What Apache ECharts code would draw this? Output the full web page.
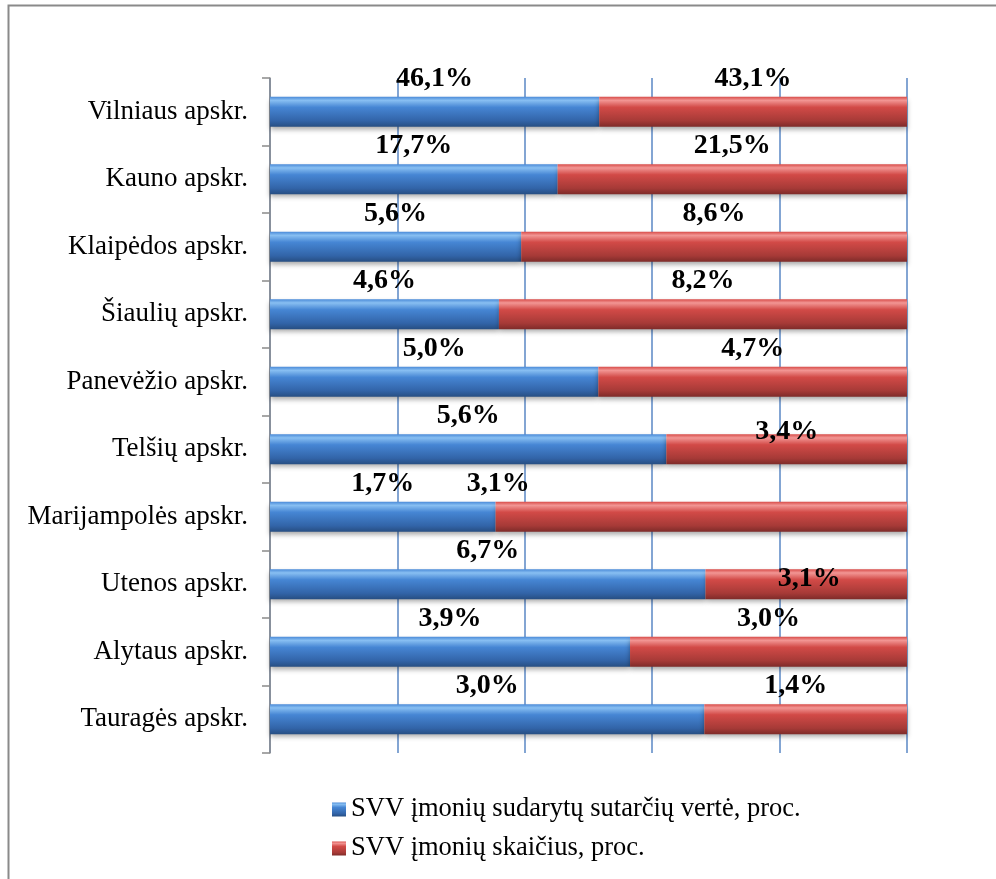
<!DOCTYPE html>
<html>
<head>
<meta charset="utf-8">
<script src="https://cdn.jsdelivr.net/npm/echarts@6/dist/echarts.min.js"></script>
<style>
  html, body { margin: 0; padding: 0; background: #fff; }
  #chart { width: 996px; height: 879px; }
</style>
</head>
<body>
<div id="chart"></div>
<script>
// apskritys, iš viršaus į apačią
const categories = ['Vilniaus apskr.', 'Kauno apskr.', 'Klaipėdos apskr.', 'Šiaulių apskr.', 'Panevėžio apskr.',
  'Telšių apskr.', 'Marijampolės apskr.', 'Utenos apskr.', 'Alytaus apskr.', 'Tauragės apskr.']
// SVV įmonių sudarytų sutarčių vertė, proc.
const contractValue = [46.1, 17.7, 5.6, 4.6, 5.0, 5.6, 1.7, 6.7, 3.9, 3.0]
// SVV įmonių skaičius, proc.
const companyCount = [43.1, 21.5, 8.6, 8.2, 4.7, 3.4, 3.1, 3.1, 3.0, 1.4]
const seriesNames = ['SVV įmonių sudarytų sutarčių vertė, proc.', 'SVV įmonių skaičius, proc.']

// rankiniu būdu pastumtos etiketės (kaip originale)
const redLabelShift = { 5: [0, 16], 6: [-203, 0], 7: [3, 28], 9: [-10, 0] }

const font = 'Liberation Serif, Times New Roman, serif'
const fmt = v => v.toFixed(1).replace('.', ',') + '%'

// 100% sudėtinė juosta: kiekviena eilutė normuojama į 100
const share = (a, b) => a.map((v, i) => v / (v + b[i]) * 100)

const blueGrad = new echarts.graphic.LinearGradient(0, 0, 0, 1, [
  { offset: 0, color: '#4a8ad8' },
  { offset: 0.12, color: '#88bff2' },
  { offset: 0.35, color: '#4686d4' },
  { offset: 0.8, color: '#3264a8' },
  { offset: 1, color: '#274e82' }
])
const redGrad = new echarts.graphic.LinearGradient(0, 0, 0, 1, [
  { offset: 0, color: '#d84c49' },
  { offset: 0.12, color: '#f29694' },
  { offset: 0.35, color: '#d24a47' },
  { offset: 0.8, color: '#a63a37' },
  { offset: 1, color: '#7e2b29' }
])

const makeSeries = (name, values, raw, grad, shifts) => ({
  name,
  type: 'bar',
  stack: 'total',
  barWidth: 30,
  itemStyle: {
    color: grad,
    shadowColor: 'rgba(0,0,0,0.35)',
    shadowBlur: 5,
    shadowOffsetY: 3
  },
  label: {
    show: true,
    position: 'top',
    distance: 4,
    fontFamily: font,
    fontSize: 28,
    fontWeight: 'bold',
    color: '#000',
    formatter: p => fmt(raw[p.dataIndex])
  },
  data: values.map((v, i) => shifts && shifts[i]
    ? { value: v, label: { offset: shifts[i] } }
    : v)
})

const chart = echarts.init(document.getElementById('chart'))
chart.setOption({
  backgroundColor: '#fff',
  animation: false,
  graphic: [{
    type: 'rect',
    shape: { x: 8.5, y: 5.5, width: 1000, height: 900 },
    style: { fill: 'none', stroke: '#8a8a8a', lineWidth: 2 },
    silent: true
  }],
  grid: { left: 270, right: 89, top: 78, bottom: 126 },
  xAxis: {
    type: 'value',
    min: 0,
    max: 100,
    interval: 20,
    axisLine: { show: false },
    axisTick: { show: false },
    axisLabel: { show: false },
    splitLine: { lineStyle: { color: '#5a87c4', width: 1.5 } }
  },
  yAxis: {
    type: 'category',
    inverse: true,
    data: categories,
    axisLine: { show: true, lineStyle: { color: '#8a8a8a', width: 1.5 } },
    axisTick: { show: true, length: 8, lineStyle: { color: '#8a8a8a', width: 1.5 } },
    axisLabel: { margin: 22, fontFamily: font, fontSize: 27, color: '#000' }
  },
  legend: {
    orient: 'vertical',
    left: 327,
    top: 791,
    itemWidth: 14,
    itemHeight: 14,
    itemGap: 12,
    icon: 'rect',
    textStyle: { fontFamily: font, fontSize: 26.5, color: '#000' },
    data: seriesNames
  },
  series: [
    makeSeries(seriesNames[0], share(contractValue, companyCount), contractValue, blueGrad),
    makeSeries(seriesNames[1], share(companyCount, contractValue), companyCount, redGrad, redLabelShift)
  ]
})
</script>
</body>
</html>
